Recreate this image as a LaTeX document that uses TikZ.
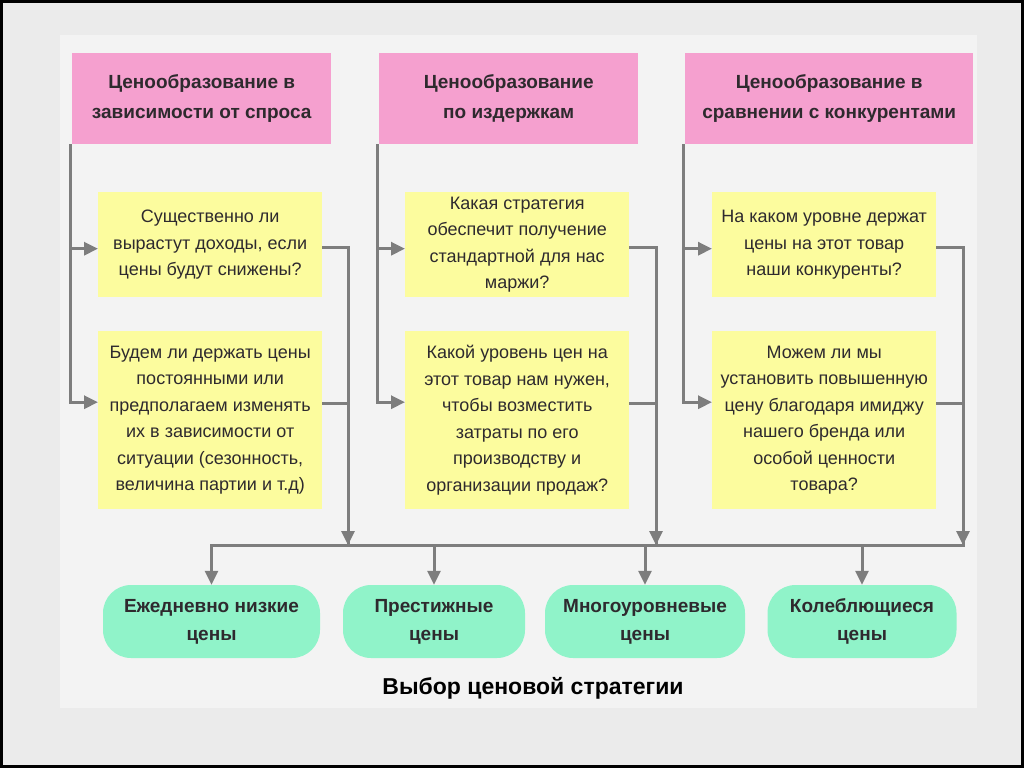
\documentclass[tikz,border=0pt]{standalone}
\usepackage{fontspec}
\setmainfont{Liberation Sans}
\usetikzlibrary{arrows.meta, positioning, calc}
\definecolor{pinkfill}{HTML}{F5A0CF}
\definecolor{yellowfill}{HTML}{FCFC9E}
\definecolor{mintfill}{HTML}{90F3C9}
\definecolor{wiregray}{HTML}{7D7D7D}
\definecolor{ink}{HTML}{2E2A2E}
\definecolor{slidebg}{HTML}{EBEBEB}
\definecolor{panelbg}{HTML}{F3F3F3}
\tikzstyle{headbox}  = [rectangle, fill=pinkfill, anchor=north west, minimum height=91pt,
                        align=center, text=ink, font=\fontsize{19}{30}\selectfont\bfseries]
\tikzstyle{askbox}   = [rectangle, fill=yellowfill, anchor=north west, minimum width=224pt,
                        inner sep=2pt, align=center, text=ink, font=\fontsize{18}{26.5}\selectfont]
\tikzstyle{pricebox} = [rectangle, rounded corners=28pt, fill=mintfill, minimum height=73pt,
                        align=center, text=ink, font=\fontsize{19}{28}\selectfont\bfseries]
\tikzstyle{link}     = [line width=3pt, color=wiregray]
\tikzstyle{arrow}    = [link, -{Triangle[length=14pt, width=13pt]}]

\begin{document}
\begin{tikzpicture}[x=1pt, y=-1pt]

  %% slide background
  \fill[slidebg] (0,0) rectangle (1024,768);
  \fill[panelbg] (60,35) rectangle (977,708);
  \draw[black, line width=3pt] (1.5,1.5) rectangle (1022.5,766.5);

  %% approaches
  \node[headbox, minimum width=259pt] (dem)  at (72,53)  {Ценообразование в\\зависимости от спроса};
  \node[headbox, minimum width=259pt] (cost) at (379,53) {Ценообразование\\по издержкам};
  \node[headbox, minimum width=288pt] (comp) at (685,53) {Ценообразование в\\сравнении с конкурентами};

  %% questions
  \node[askbox, minimum height=105pt] (dem1) at (98,192)
    {Существенно ли\\вырастут доходы, если\\цены будут снижены?};
  \node[askbox, minimum height=178pt] (dem2) at (98,331)
    {Будем ли держать цены\\постоянными или\\предполагаем изменять\\их в зависимости от\\ситуации (сезонность,\\величина партии и т.д)};
  \node[askbox, minimum height=105pt] (cost1) at (405,192)
    {Какая стратегия\\обеспечит получение\\стандартной для нас\\маржи?};
  \node[askbox, minimum height=178pt] (cost2) at (405,331)
    {Какой уровень цен на\\этот товар нам нужен,\\чтобы возместить\\затраты по его\\производству и\\организации продаж?};
  \node[askbox, minimum height=105pt] (comp1) at (712,192)
    {На каком уровне держат\\цены на этот товар\\наши конкуренты?};
  \node[askbox, minimum height=178pt] (comp2) at (712,331)
    {Можем ли мы\\установить повышенную\\цену благодаря имиджу\\нашего бренда или\\особой ценности\\товара?};

  %% strategies
  \node[pricebox, minimum width=217pt] (edlp)  at (211.5,621.5) {Ежедневно низкие\\цены};
  \node[pricebox, minimum width=182pt] (prest) at (434,621.5)   {Престижные\\цены};
  \node[pricebox, minimum width=200pt] (multi) at (645,621.5)   {Многоуровневые\\цены};
  \node[pricebox, minimum width=189pt] (float) at (862,621.5)   {Колеблющиеся\\цены};

  \node[font=\fontsize{23}{28}\selectfont\bfseries, text=black] (title) at (533,688)
    {Выбор ценовой стратегии};

  %% bus
  \coordinate (drop1) at (348,545);
  \coordinate (drop2) at (656,545);
  \coordinate (drop3) at (963,545);
  \coordinate (busL)  at (edlp.north |- drop1);

  %% arrows
  \foreach \h/\a/\b in {dem/dem1/dem2, cost/cost1/cost2, comp/comp1/comp2} {
    \draw[arrow] ([xshift=-1.5pt]\h.south west) |- ([yshift=18pt]\b.west);
    \draw[arrow] ([xshift=-1.5pt]\h.south west) |- ([yshift=-4pt]\a.west);
  }
  \foreach \a/\b/\d in {dem1/dem2/drop1, cost1/cost2/drop2, comp1/comp2/drop3} {
    \draw[link] ([yshift=17pt]\b.east) -| (\d);
    \draw[arrow] ([yshift=-3pt]\a.east) -| (\d);
  }
  \draw[link, line cap=rect] (busL) -- (drop3);
  \foreach \p in {edlp, prest, multi, float}
    \draw[arrow] (\p.north |- busL) -- (\p.north);

\end{tikzpicture}
\end{document}
